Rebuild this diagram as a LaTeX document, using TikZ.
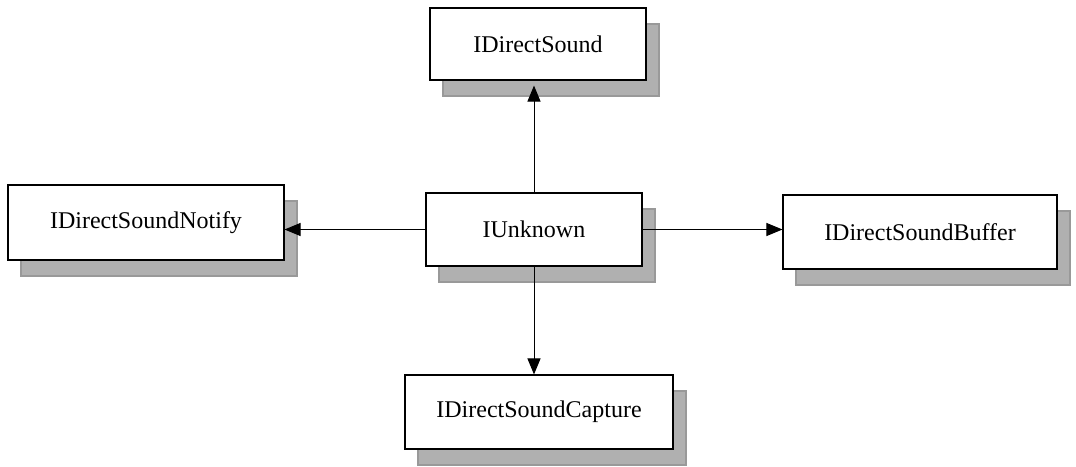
\documentclass[tikz,border=0pt]{standalone}
\usepackage{fontspec}
\setmainfont{Liberation Serif}
\usetikzlibrary{arrows.meta,shadows}
\begin{document}
\begin{tikzpicture}[x=1pt,y=-1pt,
  box/.style={draw=black, line width=1.1pt, fill=white, inner sep=0pt,
    font=\fontsize{24}{28}\selectfont,
    general shadow={fill=gray!62, draw=gray!80, shadow xshift=13pt, shadow yshift=-16pt}},
  conn/.style={line width=1pt, -{Triangle[length=16pt,width=13pt]}}]
\useasboundingbox (0,0) rectangle (1076,466);
\node[box, minimum width=216pt, minimum height=72pt] (ds) at (538,44) {IDirectSound};
\node[box, minimum width=276pt, minimum height=75pt] (notify) at (146,222.5) {IDirectSoundNotify};
\node[box, minimum width=216pt, minimum height=73pt] (unk) at (534,229.5) {IUnknown};
\node[box, minimum width=274pt, minimum height=74pt] (buf) at (920,232) {IDirectSoundBuffer};
\node[box, minimum width=268pt, minimum height=74pt] (cap) at (539,412) {IDirectSoundCapture};
\draw[conn, shorten >=5pt] (unk.north) -- (unk.north |- ds.south);
\draw[conn] (unk.west) -- (unk.west -| notify.east);
\draw[conn] (unk.east) -- (unk.east -| buf.west);
\draw[conn] (unk.south) -- (unk.south |- cap.north);
\end{tikzpicture}
\end{document}
